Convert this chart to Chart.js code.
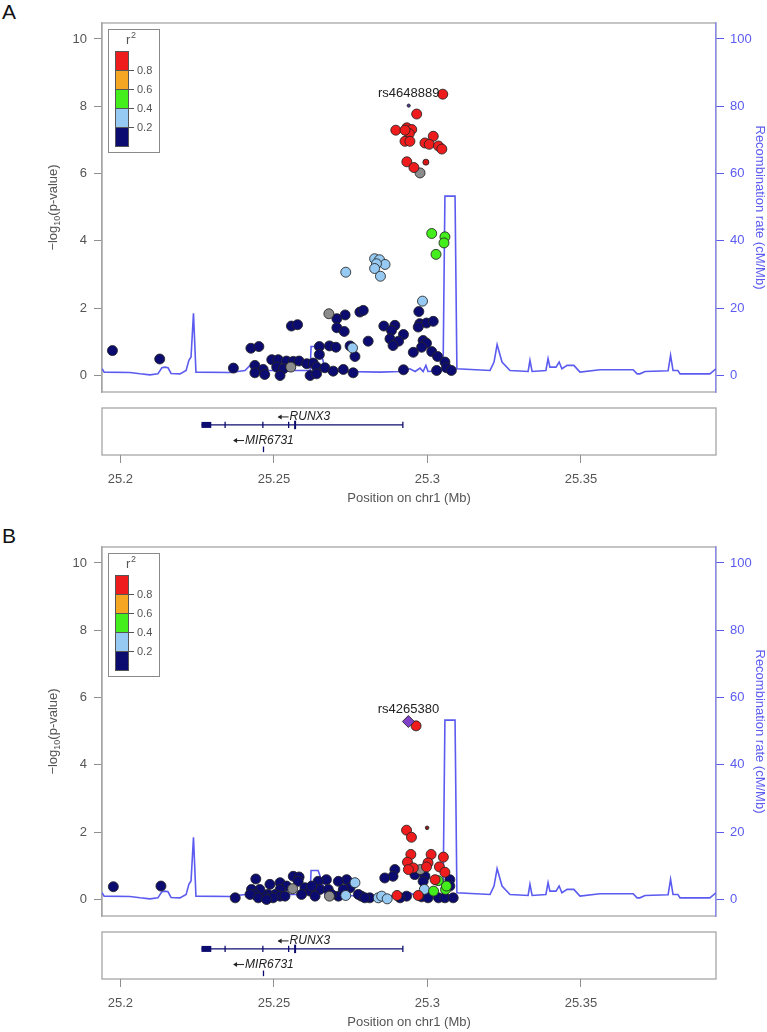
<!DOCTYPE html>
<html>
<head>
<meta charset="utf-8">
<script src="https://cdn.jsdelivr.net/npm/chart.js@4.4.0/dist/chart.umd.min.js"></script>
<style>
  body { margin: 0; background: #fff; width: 767px; height: 1032px; position: relative; overflow: hidden; font-family: "Liberation Sans", Arial, sans-serif; }
  .panel { position: absolute; left: 0; width: 767px; height: 524px; }
  .letter { position: absolute; left: 2px; font-size: 21px; color: #111; line-height: 21px; }
  canvas { position: absolute; left: 0; }
</style>
</head>
<body>
<div class="panel" style="top:0">
  <div class="letter" style="top:1px">A</div>
  <canvas id="mainA" width="767" height="400" style="top:0"></canvas>
  <canvas id="geneA" width="767" height="110" style="top:400px"></canvas>
</div>
<div class="panel" style="top:524px">
  <div class="letter" style="top:1px">B</div>
  <canvas id="mainB" width="767" height="400" style="top:0"></canvas>
  <canvas id="geneB" width="767" height="110" style="top:400px"></canvas>
</div>

<script>
const FONT = '"Liberation Sans", Arial, sans-serif';

// axis ranges and ticks
const xRange = [25.194, 25.394];
const xTickValues = [25.2, 25.25, 25.3, 25.35];
const xTickLabels = ["25.2", "25.25", "25.3", "25.35"];
const pTicks = [0, 2, 4, 6, 8, 10];
const recombTicks = [0, 20, 40, 60, 80, 100];
const r2Labels = ["0.8", "0.6", "0.4", "0.2"];
const r2Colors = ["#ee1c1c", "#f5a623", "#44ee1c", "#96caf2", "#0c0c70"];

// recombination rate (cM/Mb), same region for both panels
const recombPos = [25.1940, 25.1947, 25.2031, 25.2064, 25.2096, 25.2122, 25.2135, 25.2145, 25.2155, 25.2165,
  25.2194, 25.2214, 25.2223, 25.2230, 25.2238, 25.2246, 25.2357, 25.2406, 25.2422, 25.2438,
  25.2455, 25.2585, 25.2618, 25.2621, 25.2644, 25.2660, 25.2666, 25.2732, 25.2846, 25.2911,
  25.2943, 25.2960, 25.2976, 25.2986, 25.2995, 25.3002, 25.3051, 25.3057, 25.3090, 25.3096,
  25.3204, 25.3217, 25.3227, 25.3243, 25.3269, 25.3328, 25.3334, 25.3341, 25.3386, 25.3393,
  25.3399, 25.3419, 25.3429, 25.3438, 25.3455, 25.3477, 25.3497, 25.3562, 25.3670, 25.3683,
  25.3692, 25.3709, 25.3784, 25.3792, 25.3800, 25.3816, 25.3823, 25.3920, 25.3940];
const recombRate = [2.0, 1.0, 0.9, 0.5, 0.2, 0.5, 2.3, 2.5, 2.3, 0.6,
  0.5, 1.5, 4.5, 5.5, 18.5, 1.0, 0.9, 1.5, 3.0, 3.3,
  1.5, 1.5, 1.5, 8.6, 8.6, 4.5, 1.5, 1.2, 1.0, 1.2,
  2.0, 1.2, 2.2, 1.2, 3.0, 1.2, 1.5, 53.3, 53.3, 2.0,
  1.5, 4.0, 9.2, 4.0, 1.5, 1.2, 4.5, 1.2, 1.5, 5.0,
  2.5, 2.5, 4.0, 2.0, 3.0, 3.0, 1.0, 1.7, 1.7, 0.5,
  0.5, 1.2, 1.4, 6.0, 1.5, 1.5, 0.5, 0.5, 2.0];

// genes
const runx3Span = [25.2264, 25.2920];
const runx3Block = [25.2264, 25.2296];
const runx3Exons = [25.2341, 25.2464, 25.2548, 25.2569, 25.2920];
const runx3LabelPos = 25.2512;
const mir6731Pos = 25.2466;
const mir6731LabelPos = 25.2367;

// panel A: [position Mb, -log10 p]
const aNavy = [[25.1974, 0.74], [25.2128, 0.49], [25.2732, 1.80], [25.2705, 1.69], [25.2780, 1.885], [25.2791, 1.935],
  [25.2557, 1.47], [25.2577, 1.51], [25.2705, 1.42], [25.2729, 1.31], [25.2972, 1.90], [25.2858, 1.47],
  [25.2894, 1.49], [25.2883, 1.34], [25.2922, 1.22], [25.2975, 1.54], [25.2997, 1.56], [25.3019, 1.61],
  [25.2970, 1.44], [25.2878, 1.09], [25.2906, 1.02], [25.2986, 1.04], [25.2997, 0.96], [25.2807, 1.02],
  [25.2425, 0.81], [25.2451, 0.86], [25.2648, 0.86], [25.2681, 0.88], [25.2702, 0.84], [25.2748, 0.88],
  [25.2648, 0.625], [25.2764, 0.565], [25.2888, 0.89], [25.2954, 0.69], [25.2981, 0.84], [25.3014, 0.71],
  [25.3033, 0.565], [25.2368, 0.22], [25.2438, 0.30], [25.2465, 0.18], [25.2493, 0.47], [25.2514, 0.47],
  [25.2541, 0.43], [25.2509, 0.25], [25.2531, 0.20], [25.2563, 0.42], [25.2582, 0.43], [25.2607, 0.35],
  [25.2628, 0.37], [25.2639, 0.25], [25.2666, 0.23], [25.2693, 0.13], [25.2726, 0.18], [25.2758, 0.08],
  [25.2438, 0.08], [25.2470, 0.03], [25.2520, 0.0], [25.2618, 0.0], [25.2639, 0.05], [25.2922, 0.17],
  [25.3030, 0.15], [25.3057, 0.40], [25.3062, 0.23], [25.3078, 0.15]];
const aGray = [[25.2679, 1.835], [25.2555, 0.25], [25.2976, 6.02]];
const aLightBlue = [[25.2984, 2.21], [25.2756, 0.82], [25.2828, 3.47], [25.2844, 3.44], [25.2862, 3.30],
  [25.2834, 3.32], [25.2828, 3.18], [25.2847, 2.95], [25.2734, 3.07]];
const aGreen = [[25.3014, 4.22], [25.3057, 4.12], [25.3054, 3.94], [25.3028, 3.60]];
const aRed = [[25.3050, 8.36], [25.2965, 7.77], [25.2897, 7.29], [25.2933, 7.36], [25.2949, 7.31], [25.2941, 7.19],
  [25.2927, 7.29], [25.2927, 6.96], [25.2943, 6.96], [25.3019, 7.11], [25.2992, 6.91], [25.3006, 6.87],
  [25.3036, 6.82], [25.3047, 6.73], [25.2933, 6.35], [25.2956, 6.18]];
const aSmall = [[25.2995, 6.34]];
const aIndex = [[25.2939, 8.02]];
const aIndexName = "rs4648889";

// panel B
const bNavy = [[25.1977, 0.38], [25.2132, 0.40], [25.2894, 0.89], [25.2888, 0.69], [25.2861, 0.64], [25.2959, 0.74],
  [25.2992, 0.69], [25.2986, 0.54], [25.3073, 0.59], [25.3073, 0.40], [25.2981, 0.08], [25.3002, 0.05],
  [25.3036, 0.05], [25.3057, 0.05], [25.3084, 0.05], [25.2932, 0.10], [25.2911, 0.05], [25.2737, 0.59],
  [25.2710, 0.54], [25.2748, 0.35], [25.2726, 0.30], [25.2812, 0.05], [25.2785, 0.10], [25.2710, 0.10],
  [25.2671, 0.59], [25.2644, 0.54], [25.2650, 0.30], [25.2677, 0.30], [25.2688, 0.15], [25.2563, 0.69],
  [25.2582, 0.67], [25.2579, 0.54], [25.2601, 0.35], [25.2618, 0.25], [25.2623, 0.40], [25.2634, 0.10],
  [25.2590, 0.15], [25.2520, 0.50], [25.2541, 0.40], [25.2520, 0.30], [25.2504, 0.15], [25.2520, 0.10],
  [25.2536, 0.10], [25.2487, 0.45], [25.2481, 0.15], [25.2465, 0.15], [25.2497, 0.05], [25.2441, 0.61],
  [25.2454, 0.30], [25.2427, 0.30], [25.2438, 0.15], [25.2449, 0.05], [25.2476, 0.00], [25.2422, 0.15],
  [25.2374, 0.05], [25.2775, 0.15], [25.2796, 0.05]];
const bGray = [[25.2977, 0.89], [25.2561, 0.32], [25.2681, 0.10]];
const bLightBlue = [[25.2990, 0.30], [25.2840, 0.05], [25.2851, 0.10], [25.2869, 0.02], [25.2734, 0.12], [25.2764, 0.50]];
const bGreen = [[25.3035, 0.56], [25.3020, 0.25], [25.3059, 0.30], [25.3062, 0.40]];
const bRed = [[25.2963, 5.16], [25.2932, 2.06], [25.2948, 1.85], [25.2946, 1.34], [25.3012, 1.34], [25.3052, 1.26],
  [25.2935, 1.11], [25.3002, 1.09], [25.2954, 0.94], [25.2938, 0.89], [25.2997, 0.97], [25.3039, 0.97],
  [25.3057, 0.81], [25.3025, 0.59], [25.2901, 0.12], [25.2970, 0.12]];
const bSmall = [[25.2999, 2.13]];
const bIndex = [[25.2938, 5.29]];
const bIndexName = "rs4265380";

const axisGray = "#8f8f8f";
const textGray = "#555555";
const recBlue = "#5b5bf0";

function xy(arr) {
  return arr.map(p => ({ x: p[0], y: p[1] }));
}

// gray frame round the plotting region
const framePlugin = {
  id: "frame",
  beforeDraw(chart) {
    const { ctx, chartArea: a } = chart;
    ctx.save();
    ctx.strokeStyle = "#a6a6a6";
    ctx.lineWidth = 1.3;
    ctx.strokeRect(a.left, a.top, a.right - a.left, a.bottom - a.top);
    ctx.restore();
  },
};

// r2 colour key in the top left corner
const r2LegendPlugin = {
  id: "r2legend",
  afterDraw(chart) {
    const { ctx, chartArea: a } = chart;
    const x0 = a.left + 6, y0 = a.top + 6;
    ctx.save();
    ctx.fillStyle = "#fff";
    ctx.fillRect(x0, y0, 51, 123);
    ctx.strokeStyle = "#8a8a8a";
    ctx.lineWidth = 1;
    ctx.strokeRect(x0 + 0.5, y0 + 0.5, 51, 123);
    const bx = x0 + 7, by = y0 + 22, bw = 13, bh = 19;
    r2Colors.forEach((c, i) => {
      ctx.fillStyle = c;
      ctx.fillRect(bx, by + i * bh, bw, bh);
    });
    ctx.strokeStyle = "#555";
    ctx.strokeRect(bx + 0.5, by + 0.5, bw, bh * 5);
    ctx.font = "11px " + FONT;
    ctx.fillStyle = textGray;
    ctx.textBaseline = "middle";
    ctx.textAlign = "left";
    r2Labels.forEach((t, i) => {
      const y = by + (i + 1) * bh + 0.5;
      ctx.beginPath();
      ctx.moveTo(bx, y);
      ctx.lineTo(bx + bw, y);
      ctx.moveTo(bx + bw, y);
      ctx.lineTo(bx + bw + 6, y);
      ctx.stroke();
      ctx.fillText(t, bx + bw + 9, y);
    });
    ctx.font = "13px " + FONT;
    ctx.textBaseline = "alphabetic";
    ctx.fillText("r", x0 + 18, y0 + 15);
    ctx.font = "9px " + FONT;
    ctx.fillText("2", x0 + 23, y0 + 9);
    ctx.restore();
  },
};

// axis titles on both sides
const sideTitlesPlugin = {
  id: "sideTitles",
  afterDraw(chart) {
    const { ctx, chartArea: a } = chart;
    const cy = (a.top + a.bottom) / 2;
    ctx.save();
    ctx.translate(52, cy);
    ctx.rotate(-Math.PI / 2);
    const f1 = "13px " + FONT, f2 = "9px " + FONT;
    ctx.font = f1;
    const w1 = ctx.measureText("\u2212log").width;
    const w3 = ctx.measureText("(p-value)").width;
    ctx.font = f2;
    const w2 = ctx.measureText("10").width;
    let x = -(w1 + w2 + w3) / 2;
    ctx.fillStyle = textGray;
    ctx.textAlign = "left";
    ctx.font = f1;
    ctx.fillText("\u2212log", x, 4.5);
    x += w1;
    ctx.font = f2;
    ctx.fillText("10", x, 8);
    x += w2;
    ctx.font = f1;
    ctx.fillText("(p-value)", x, 4.5);
    ctx.restore();

    ctx.save();
    ctx.translate(760, cy);
    ctx.rotate(Math.PI / 2);
    ctx.font = "13px " + FONT;
    ctx.fillStyle = recBlue;
    ctx.textAlign = "center";
    ctx.textBaseline = "middle";
    ctx.fillText("Recombination rate (cM/Mb)", 0, 0);
    ctx.restore();
  },
};

// name of the index SNP above its point
function indexLabelPlugin(name) {
  return {
    id: "indexLabel",
    afterDatasetsDraw(chart) {
      const meta = chart.getDatasetMeta(chart.data.datasets.length - 1);
      const pt = meta.data[0];
      const { ctx } = chart;
      ctx.save();
      ctx.font = "13px " + FONT;
      ctx.fillStyle = "#222";
      ctx.textAlign = "center";
      ctx.textBaseline = "middle";
      ctx.fillText(name, pt.x, pt.y - 12);
      ctx.restore();
    },
  };
}

function pointSet(data, color, order, radius) {
  return {
    data: xy(data),
    yAxisID: "y",
    backgroundColor: color,
    borderColor: "rgba(35,35,35,0.85)",
    pointRadius: radius,
    pointBorderWidth: 1,
    order: order,
  };
}

function makeMain(id, g) {
  const datasets = [
    {
      data: recombPos.map((x, i) => ({ x: x, y: recombRate[i] })),
      yAxisID: "y2",
      showLine: true,
      borderColor: recBlue,
      borderWidth: 1.6,
      pointRadius: 0,
      order: 20,
    },
    pointSet(g.navy, r2Colors[4], 7, 5),
    pointSet(g.gray, "#8c8c8c", 6, 5),
    pointSet(g.lightBlue, r2Colors[3], 5, 5),
    pointSet(g.green, r2Colors[2], 4, 5),
    pointSet(g.red, r2Colors[0], 3, 5),
    pointSet(g.small, g.smallColor, 2, g.smallRadius),
    Object.assign(pointSet(g.index, g.indexColor, 1, g.indexRadius), { pointStyle: g.indexStyle }),
  ];
  return new Chart(document.getElementById(id), {
    type: "scatter",
    data: { datasets: datasets },
    options: {
      responsive: false,
      animation: false,
      events: [],
      layout: { padding: { top: 23, bottom: 8, left: 0, right: 0 } },
      plugins: { legend: { display: false }, tooltip: { enabled: false } },
      scales: {
        x: { type: "linear", min: xRange[0], max: xRange[1], display: false },
        y: {
          type: "linear",
          position: "left",
          min: -0.49,
          max: 10.475,
          afterBuildTicks: s => { s.ticks = pTicks.map(v => ({ value: v })); },
          afterFit: s => { s.width = 102; s.paddingTop = 0; s.paddingBottom = 0; },
          grid: { drawOnChartArea: false, tickLength: 8, color: axisGray },
          border: { display: true, color: "#a6a6a6", width: 1.3 },
          ticks: { color: textGray, font: { family: FONT, size: 13 }, padding: 7, callback: v => String(v) },
        },
        y2: {
          type: "linear",
          position: "right",
          min: -4.9,
          max: 104.75,
          afterBuildTicks: s => { s.ticks = recombTicks.map(v => ({ value: v })); },
          afterFit: s => { s.width = 51; s.paddingTop = 0; s.paddingBottom = 0; },
          grid: { drawOnChartArea: false, tickLength: 8, color: recBlue },
          border: { display: true, color: "#8a8af0", width: 1.3 },
          ticks: { color: recBlue, font: { family: FONT, size: 13 }, padding: 6, callback: v => String(v) },
        },
      },
    },
    plugins: [framePlugin, r2LegendPlugin, sideTitlesPlugin, indexLabelPlugin(g.name)],
  });
}

// gene names with their strand arrows
const geneLabelPlugin = {
  id: "geneLabels",
  afterDatasetsDraw(chart) {
    const { ctx } = chart;
    const xs = chart.scales.x, ys = chart.scales.y;
    const items = [
      { name: "RUNX3", x: xs.getPixelForValue(runx3LabelPos), y: ys.getPixelForValue(0.64) - 8 },
      { name: "MIR6731", x: xs.getPixelForValue(mir6731LabelPos), y: ys.getPixelForValue(0.18) - 6 },
    ];
    ctx.save();
    ctx.strokeStyle = "#222";
    ctx.fillStyle = "#222";
    ctx.lineWidth = 1;
    items.forEach(it => {
      ctx.beginPath();
      ctx.moveTo(it.x + 1, it.y);
      ctx.lineTo(it.x + 11, it.y);
      ctx.stroke();
      ctx.beginPath();
      ctx.moveTo(it.x, it.y);
      ctx.lineTo(it.x + 4, it.y - 2.5);
      ctx.lineTo(it.x + 4, it.y + 2.5);
      ctx.closePath();
      ctx.fill();
      ctx.font = "italic 12px " + FONT;
      ctx.textBaseline = "middle";
      ctx.textAlign = "left";
      ctx.fillText(it.name, it.x + 12, it.y);
    });
    ctx.restore();
  },
};

function segment(x0, y0, x1, y1, width) {
  return {
    data: [{ x: x0, y: y0 }, { x: x1, y: y1 }],
    showLine: true,
    borderColor: "#0c0c70",
    borderWidth: width,
    pointRadius: 0,
  };
}

function makeGene(id) {
  const datasets = [
    segment(runx3Span[0], 0.64, runx3Span[1], 0.64, 1.3),
    segment(runx3Block[0], 0.64, runx3Block[1], 0.64, 6),
    segment(mir6731Pos, 0.06, mir6731Pos, 0.18, 1.3),
  ];
  runx3Exons.forEach((e, i) => {
    const h = i === 3 ? 0.09 : 0.065;
    datasets.push(segment(e, 0.64 - h, e, 0.64 + h, i === 3 ? 2 : 1.3));
  });
  return new Chart(document.getElementById(id), {
    type: "scatter",
    data: { datasets: datasets },
    options: {
      responsive: false,
      animation: false,
      events: [],
      layout: { padding: { top: 8, left: 102, right: 51, bottom: 0 } },
      plugins: { legend: { display: false }, tooltip: { enabled: false } },
      scales: {
        x: {
          type: "linear",
          min: xRange[0],
          max: xRange[1],
          afterBuildTicks: s => { s.ticks = xTickValues.map(v => ({ value: v })); },
          afterFit: s => { s.height = 55; s.paddingLeft = 0; s.paddingRight = 0; },
          grid: { drawOnChartArea: false, tickLength: 8, color: axisGray },
          border: { display: false },
          ticks: {
            color: textGray,
            font: { family: FONT, size: 13 },
            padding: 9,
            maxRotation: 0,
            autoSkip: false,
            callback: (v, i) => xTickLabels[i],
          },
          title: {
            display: true,
            text: "Position on chr1 (Mb)",
            color: textGray,
            font: { family: FONT, size: 13 },
            padding: { top: 0, bottom: 4 },
          },
        },
        y: { type: "linear", min: 0, max: 1, display: false },
      },
    },
    plugins: [framePlugin, geneLabelPlugin],
  });
}

makeMain("mainA", {
  navy: aNavy, gray: aGray, lightBlue: aLightBlue, green: aGreen, red: aRed,
  small: aSmall, smallColor: "#d81818", smallRadius: 3,
  index: aIndex, indexColor: "#4a3a96", indexRadius: 1.6, indexStyle: "circle",
  name: aIndexName,
});
makeGene("geneA");

makeMain("mainB", {
  navy: bNavy, gray: bGray, lightBlue: bLightBlue, green: bGreen, red: bRed,
  small: bSmall, smallColor: "#8b1a1a", smallRadius: 1.8,
  index: bIndex, indexColor: "#8040c8", indexRadius: 6, indexStyle: "rectRot",
  name: bIndexName,
});
makeGene("geneB");
</script>
</body>
</html>
